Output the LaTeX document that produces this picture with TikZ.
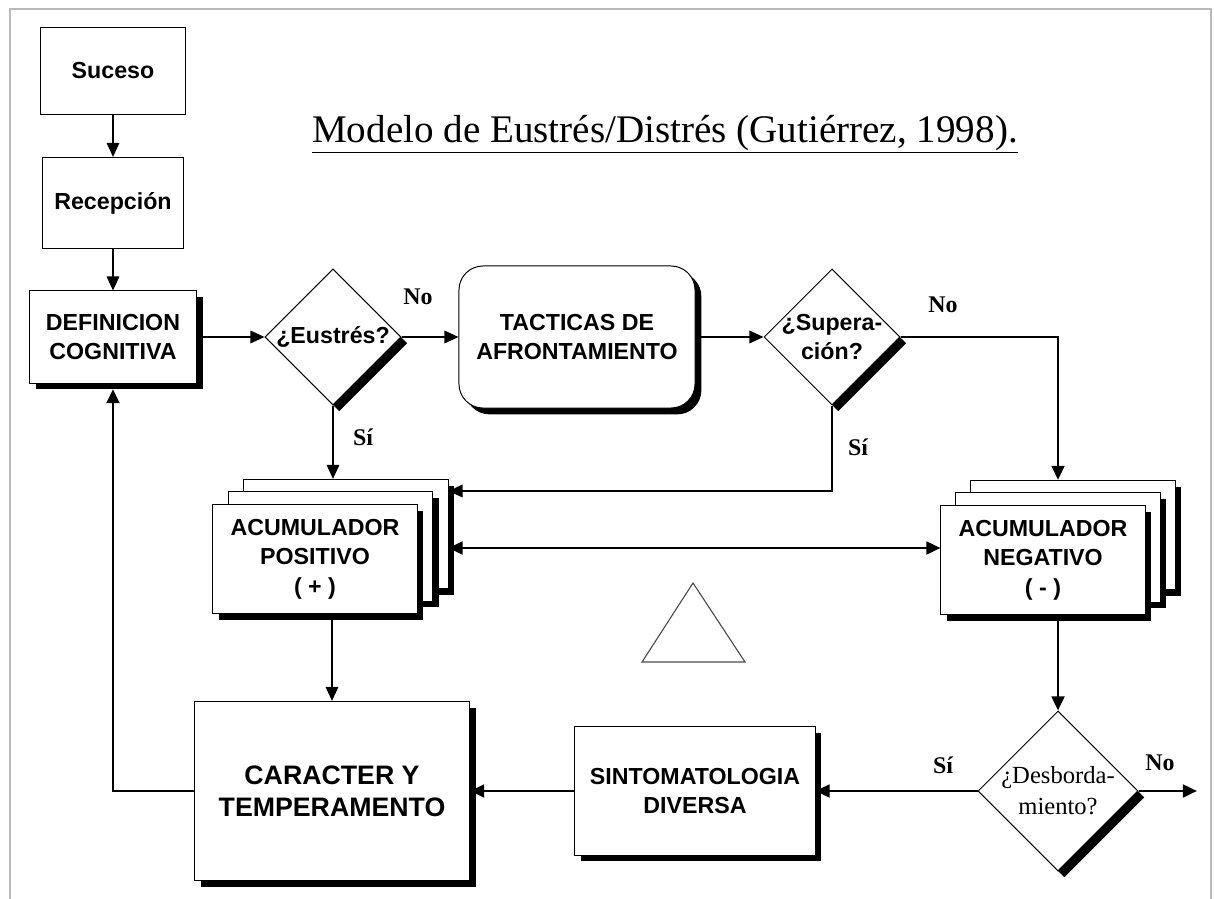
\documentclass[tikz,border=0pt]{standalone}
\usepackage{fontspec}
\setmainfont{Liberation Sans}
\newfontfamily\timesfont{Liberation Serif}
\usetikzlibrary{arrows.meta,shapes.geometric,shadows}

\begin{document}
\begin{tikzpicture}[x=0.025cm, y=-0.025cm,
    box/.style={draw, line width=0.7pt, fill=white, align=center, font=\fontsize{16.5}{21}\selectfont\bfseries},
    shade/.style={general shadow={fill=black, shadow xshift=4.5pt, shadow yshift=-4.5pt}},
    decision/.style={box, diamond, aspect=1, inner sep=-10pt, shade},
    tip/.style={-{Triangle[length=10pt,width=9pt]}},
    thinline/.style={line width=0.9pt, tip},
    thickline/.style={line width=2pt, tip},
    lbl/.style={font=\timesfont\fontsize{17}{17}\selectfont\bfseries}]
      \useasboundingbox (0,0) rectangle (1214,899);
      %Frame
      \draw[gray!55, line width=2pt] (10,899) -- (10,9) -- (1211,9) -- (1211,899);
      %Title
      \node[font=\timesfont\fontsize{27.8}{28}\selectfont] (title) at (665,134)
	{\underline{Modelo de Eustrés/Distrés (Gutiérrez, 1998).}};
      %Left column
      \node[box, minimum width=3.63cm, minimum height=2.15cm] (suceso) at (113,71) {Suceso};
      \node[box, minimum width=3.53cm, minimum height=2.28cm] (recep) at (113,203) {Recepción};
      \node[box, shade, minimum width=4.18cm, minimum height=2.3cm] (defcog) at (113,337) {DEFINICION\\COGNITIVA};
      %Top row
      \node[decision, minimum size=3.4cm] (eustres) at (333,337) {¿Eustrés?};
      \node[box, shade, rounded corners=0.6cm, minimum width=5.9cm, minimum height=3.55cm] (tacticas) at (577,337)
	{TACTICAS DE\\AFRONTAMIENTO};
      \node[decision, minimum size=3.4cm] (superacion) at (832,337) {¿Supera-\\ción?};
      %Accumulators (stacked)
      \foreach \k in {2,1}{
	\node[box, shade, minimum width=5.1cm, minimum height=2.73cm] (accpos\k) at (315+15.5*\k,559-12.5*\k) {};
	\node[box, shade, minimum width=5.1cm, minimum height=2.73cm] (accneg\k) at (1043+15*\k,560-12.5*\k) {};
      }
      \node[box, shade, minimum width=5.1cm, minimum height=2.73cm] (accpos) at (315,559) {ACUMULADOR\\POSITIVO\\( + )};
      \node[box, shade, minimum width=5.1cm, minimum height=2.73cm] (accneg) at (1043,560) {ACUMULADOR\\NEGATIVO\\( - )};
      %Balance
      \draw[line width=0.8pt, black!70] (693,583) -- (642,662) -- (745,662) -- cycle;
      %Bottom row
      \node[box, shade, minimum width=6.88cm, minimum height=4.48cm, font=\fontsize{19}{23}\selectfont\bfseries] (caracter)
	at (332,791) {CARACTER Y\\TEMPERAMENTO};
      \node[box, shade, minimum width=6cm, minimum height=3.2cm] (sintom) at (695,791) {SINTOMATOLOGIA\\DIVERSA};
      \node[decision, minimum size=4cm, font=\timesfont\fontsize{17.5}{22}\selectfont] (desbord) at (1058,791)
	{¿Desborda-\\miento?};
      %Labels
      \node[lbl] (no1) at (418,297) {No};
      \node[lbl] (no2) at (943,305) {No};
      \node[lbl] (no3) at (1160,763) {No};
      \node[lbl] (si1) at (363,437) {Sí};
      \node[lbl] (si2) at (858,447) {Sí};
      \node[lbl] (si3) at (943,765) {Sí};
      \coordinate (sirow) at (0,491);
      \coordinate (beam) at (693,548);
      \coordinate (noend) at (1197,791);
      %Connectors
      \draw[thinline] (suceso) -- (recep);
      \draw[thinline] (recep) -- (defcog);
      \draw[thinline] (defcog.east) -- (eustres.west);
      \draw[thinline] (eustres.east) -- (tacticas.west);
      \draw[thinline] (tacticas.east) -- (superacion.west);
      \draw[thinline] (eustres.south) -- (eustres.south |- accpos2.north);
      \draw[thinline] (superacion.south) |- (accpos2.east |- sirow);
      \draw[thickline] (superacion.east) -| (desbord.north |- accneg2.north);
      \draw[line width=2pt, {Triangle[length=10pt,width=9pt]}-{Triangle[length=10pt,width=9pt]}]
	(accpos2.east |- beam) -- (accneg.west |- beam);
      \draw[thinline] (caracter.north |- accpos.south) -- (caracter.north);
      \draw[thickline] (desbord.north |- accneg.south) -- (desbord.north);
      \draw[thickline] (desbord.west) -- (sintom.east);
      \draw[thickline] (desbord.east) -- (noend);
      \draw[thickline] (sintom.west) -- (caracter.east);
      \draw[thickline, shorten >=4pt] (caracter.west) -| (defcog.south);
\end{tikzpicture}
\end{document}
